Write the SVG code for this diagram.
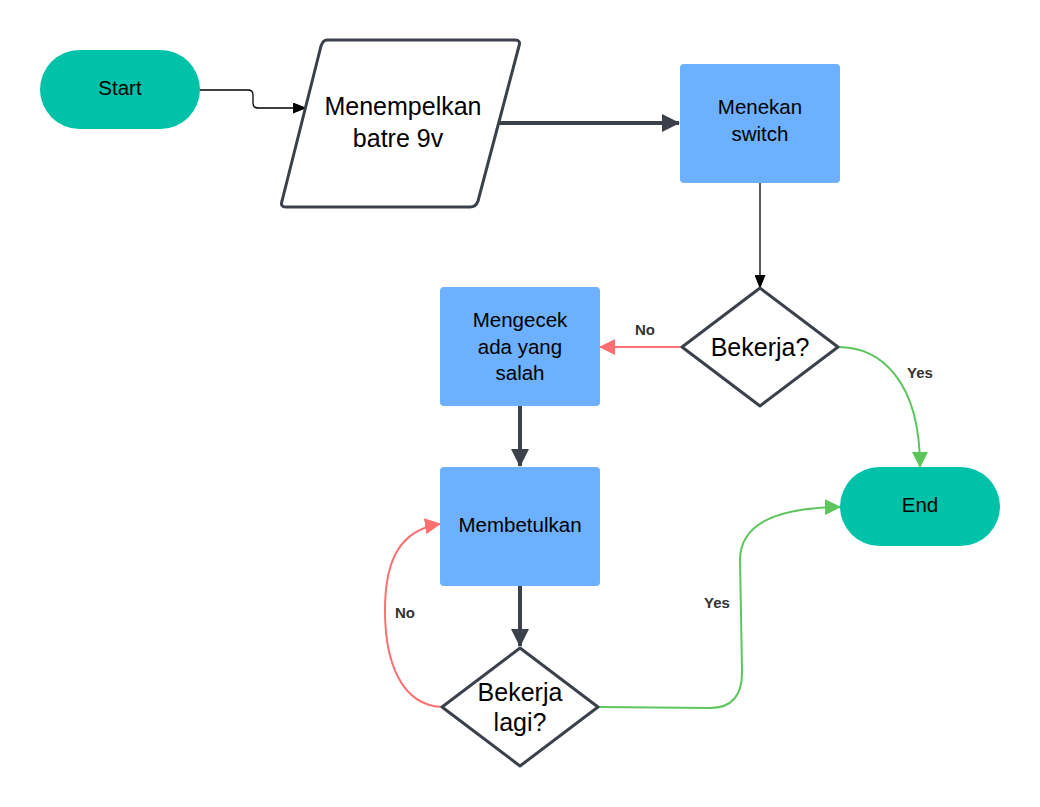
<svg xmlns="http://www.w3.org/2000/svg" width="1040" height="807" viewBox="0 0 1040 807">
<defs>
<style>
.t{font-family:"Liberation Sans",Arial,sans-serif;fill:#000;text-anchor:middle}
.s20{font-size:20.5px}.s24{font-size:25px}
.lbl{font-family:"Liberation Sans",Arial,sans-serif;font-size:15px;font-weight:bold;fill:#333;text-anchor:middle}
.term{fill:#00C2A8}
.proc{fill:#6CB0FF}
.dec{fill:#fff;stroke:#3A414A;stroke-width:3;stroke-linejoin:round}
.thin{fill:none;stroke:#000;stroke-width:1.3}
.thick{fill:none;stroke:#3A414A;stroke-width:4}
.red{fill:none;stroke:#FF6F6F;stroke-width:2}
.grn{fill:none;stroke:#5CC65C;stroke-width:2}
</style>
<marker id="ab" markerWidth="14" markerHeight="11" refX="13" refY="5.5" orient="auto" markerUnits="userSpaceOnUse" viewBox="0 0 14 11"><path d="M0,0 L14,5.5 L0,11 z" fill="#000"/></marker>
<marker id="ad" markerWidth="18" markerHeight="18" refX="17" refY="9" orient="auto" markerUnits="userSpaceOnUse" viewBox="0 0 18 18"><path d="M0,0 L18,9 L0,18 z" fill="#3A414A"/></marker>
<marker id="ar" markerWidth="16" markerHeight="16" refX="15" refY="8" orient="auto" markerUnits="userSpaceOnUse" viewBox="0 0 16 16"><path d="M0,0 L16,8 L0,16 z" fill="#FF6F6F"/></marker>
<marker id="ag" markerWidth="16" markerHeight="16" refX="15" refY="8" orient="auto" markerUnits="userSpaceOnUse" viewBox="0 0 16 16"><path d="M0,0 L16,8 L0,16 z" fill="#5CC65C"/></marker>
</defs>
<rect width="1040" height="807" fill="#fff"/>
<g id="connectors">
<path class="thin" d="M200,90 L248,90 Q253,90 253,95 L253,103 Q253,108 258,108 L306,108" marker-end="url(#ab)"/>
<path class="thick" d="M498,123 L679,123" marker-end="url(#ad)"/>
<path class="thin" d="M760,183 L760,288" marker-end="url(#ab)"/>
<path class="red" d="M682,347 L600,347" marker-end="url(#ar)"/>
<path class="grn" d="M838,347 C880,347 920,380 920,467" marker-end="url(#ag)"/>
<path class="thick" d="M520,406 L520,466" marker-end="url(#ad)"/>
<path class="thick" d="M520,586 L520,646" marker-end="url(#ad)"/>
<path class="red" d="M442,707 C400,705 385,660 385,610 C385,560 400,530 440,524" marker-end="url(#ar)"/>
<path class="grn" d="M598,707 L710,708 Q743,708 742,670 L740,560 Q740,508 840,507" marker-end="url(#ag)"/>
<text class="lbl" x="645" y="335">No</text>
<text class="lbl" x="920" y="378">Yes</text>
<text class="lbl" x="405" y="618">No</text>
<text class="lbl" x="717" y="608">Yes</text>
</g>
<g id="start"><rect class="term" x="40" y="50" width="160" height="79" rx="39.5"/><text class="t s20" x="120" y="95">Start</text></g>
<g id="menempelkan"><path class="dec" d="M327,40 L515,40 Q521,40 519,46 L478,201 Q476,207 470,207 L286,207 Q280,207 282,201 L321,46 Q323,40 327,40 Z"/><text class="t s24" x="403" y="115">Menempelkan</text><text class="t s24" x="398" y="147">batre 9v</text></g>
<g id="menekan"><rect class="proc" x="680" y="64" width="160" height="119" rx="4"/><text class="t s20" x="760" y="114">Menekan</text><text class="t s20" x="760" y="141">switch</text></g>
<g id="bekerja"><path class="dec" d="M760,288 L838,347 L760,406 L682,347 Z"/><text class="t s24" x="760" y="356">Bekerja?</text></g>
<g id="mengecek"><rect class="proc" x="440" y="287" width="160" height="119" rx="4"/><text class="t s20" x="520" y="327">Mengecek</text><text class="t s20" x="520" y="354">ada yang</text><text class="t s20" x="520" y="380">salah</text></g>
<g id="membetulkan"><rect class="proc" x="440" y="467" width="160" height="119" rx="4"/><text class="t s20" x="520" y="532">Membetulkan</text></g>
<g id="bekerjalagi"><path class="dec" d="M520,648 L598,707 L520,766 L442,707 Z"/><text class="t s24" x="520" y="701">Bekerja</text><text class="t s24" x="520" y="731">lagi?</text></g>
<g id="end"><rect class="term" x="840" y="467" width="160" height="79" rx="39.5"/><text class="t s20" x="920" y="512">End</text></g>
</svg>
